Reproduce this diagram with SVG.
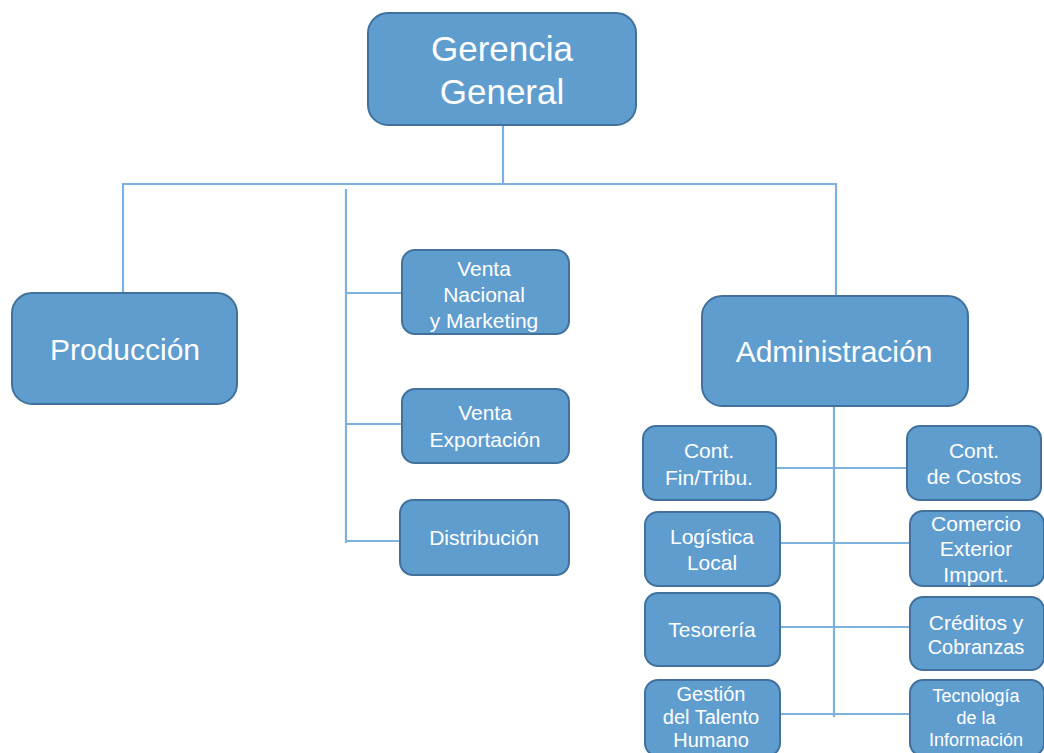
<svg xmlns="http://www.w3.org/2000/svg" width="1044" height="753" viewBox="0 0 1044 753">
  <style>
    .box { fill: #5f9dcf; stroke: #41719c; stroke-width: 2; }
    .lbl { fill: #ffffff; font-family: "Liberation Sans", Arial, sans-serif; text-anchor: middle; dominant-baseline: central; }
    .big { font-size: 35px; }
    .mid { font-size: 30px; }
    .sm { font-size: 21px; }
    .xs { font-size: 20px; }
    .xxs { font-size: 18px; }
    .wire { fill: none; stroke: #7eb1de; stroke-width: 2.2; }
  </style>
  <rect width="1044" height="753" fill="#ffffff"/>

  <!-- connectors -->
  <g id="connectors">
    <path class="wire" d="M503 125 V183"/>
    <path class="wire" d="M123 293 V184 H836 V296"/>
    <path class="wire" d="M346 189 V543"/>
    <path class="wire" d="M346 293 H402"/>
    <path class="wire" d="M346 424 H402"/>
    <path class="wire" d="M346 541 H400"/>
    <path class="wire" d="M834 406 V717"/>
    <path class="wire" d="M776 468 H907"/>
    <path class="wire" d="M780 543 H910"/>
    <path class="wire" d="M780 627 H910"/>
    <path class="wire" d="M780 714 H910"/>
  </g>

  <g id="gerencia">
    <rect class="box" x="368" y="13" width="268" height="112" rx="20"/>
    <text class="lbl big" x="502" y="48">Gerencia</text>
    <text class="lbl big" x="502" y="91">General</text>
  </g>

  <g id="produccion">
    <rect class="box" x="12" y="293" width="225" height="111" rx="20"/>
    <text class="lbl mid" x="125" y="349">Producción</text>
  </g>

  <g id="venta-nacional">
    <rect class="box" x="402" y="250" width="167" height="84" rx="13"/>
    <text class="lbl sm" x="484" y="268">Venta</text>
    <text class="lbl sm" x="484" y="294">Nacional</text>
    <text class="lbl sm" x="484" y="320">y Marketing</text>
  </g>

  <g id="venta-exportacion">
    <rect class="box" x="402" y="389" width="167" height="74" rx="13"/>
    <text class="lbl sm" x="485" y="412">Venta</text>
    <text class="lbl sm" x="485" y="439">Exportación</text>
  </g>

  <g id="distribucion">
    <rect class="box" x="400" y="500" width="169" height="75" rx="13"/>
    <text class="lbl sm" x="484" y="537">Distribución</text>
  </g>

  <g id="administracion">
    <rect class="box" x="702" y="296" width="266" height="110" rx="20"/>
    <text class="lbl mid" x="834" y="351">Administración</text>
  </g>

  <g id="cont-fin">
    <rect class="box" x="643" y="426" width="133" height="74" rx="13"/>
    <text class="lbl sm" x="709" y="450">Cont.</text>
    <text class="lbl sm" x="709" y="477">Fin/Tribu.</text>
  </g>

  <g id="logistica">
    <rect class="box" x="645" y="512" width="135" height="74" rx="13"/>
    <text class="lbl sm" x="712" y="536">Logística</text>
    <text class="lbl sm" x="712" y="562">Local</text>
  </g>

  <g id="tesoreria">
    <rect class="box" x="645" y="593" width="135" height="73" rx="13"/>
    <text class="lbl sm" x="712" y="629">Tesorería</text>
  </g>

  <g id="talento">
    <rect class="box" x="645" y="680" width="135" height="76" rx="13"/>
    <text class="lbl xs" x="711" y="694">Gestión</text>
    <text class="lbl xs" x="711" y="717">del Talento</text>
    <text class="lbl xs" x="711" y="740">Humano</text>
  </g>

  <g id="cont-costos">
    <rect class="box" x="907" y="426" width="134" height="74" rx="13"/>
    <text class="lbl sm" x="974" y="450">Cont.</text>
    <text class="lbl sm" x="974" y="476">de Costos</text>
  </g>

  <g id="comercio">
    <rect class="box" x="910" y="511" width="134" height="75" rx="13"/>
    <text class="lbl sm" x="976" y="523">Comercio</text>
    <text class="lbl sm" x="976" y="548">Exterior</text>
    <text class="lbl sm" x="976" y="574">Import.</text>
  </g>

  <g id="creditos">
    <rect class="box" x="910" y="597" width="134" height="73" rx="13"/>
    <text class="lbl sm" x="976" y="622">Créditos y</text>
    <text class="lbl xs" x="976" y="647">Cobranzas</text>
  </g>

  <g id="tecnologia">
    <rect class="box" x="910" y="680" width="134" height="76" rx="13"/>
    <text class="lbl xxs" x="976" y="696">Tecnología</text>
    <text class="lbl xxs" x="976" y="718">de la</text>
    <text class="lbl xxs" x="976" y="740">Información</text>
  </g>
</svg>
